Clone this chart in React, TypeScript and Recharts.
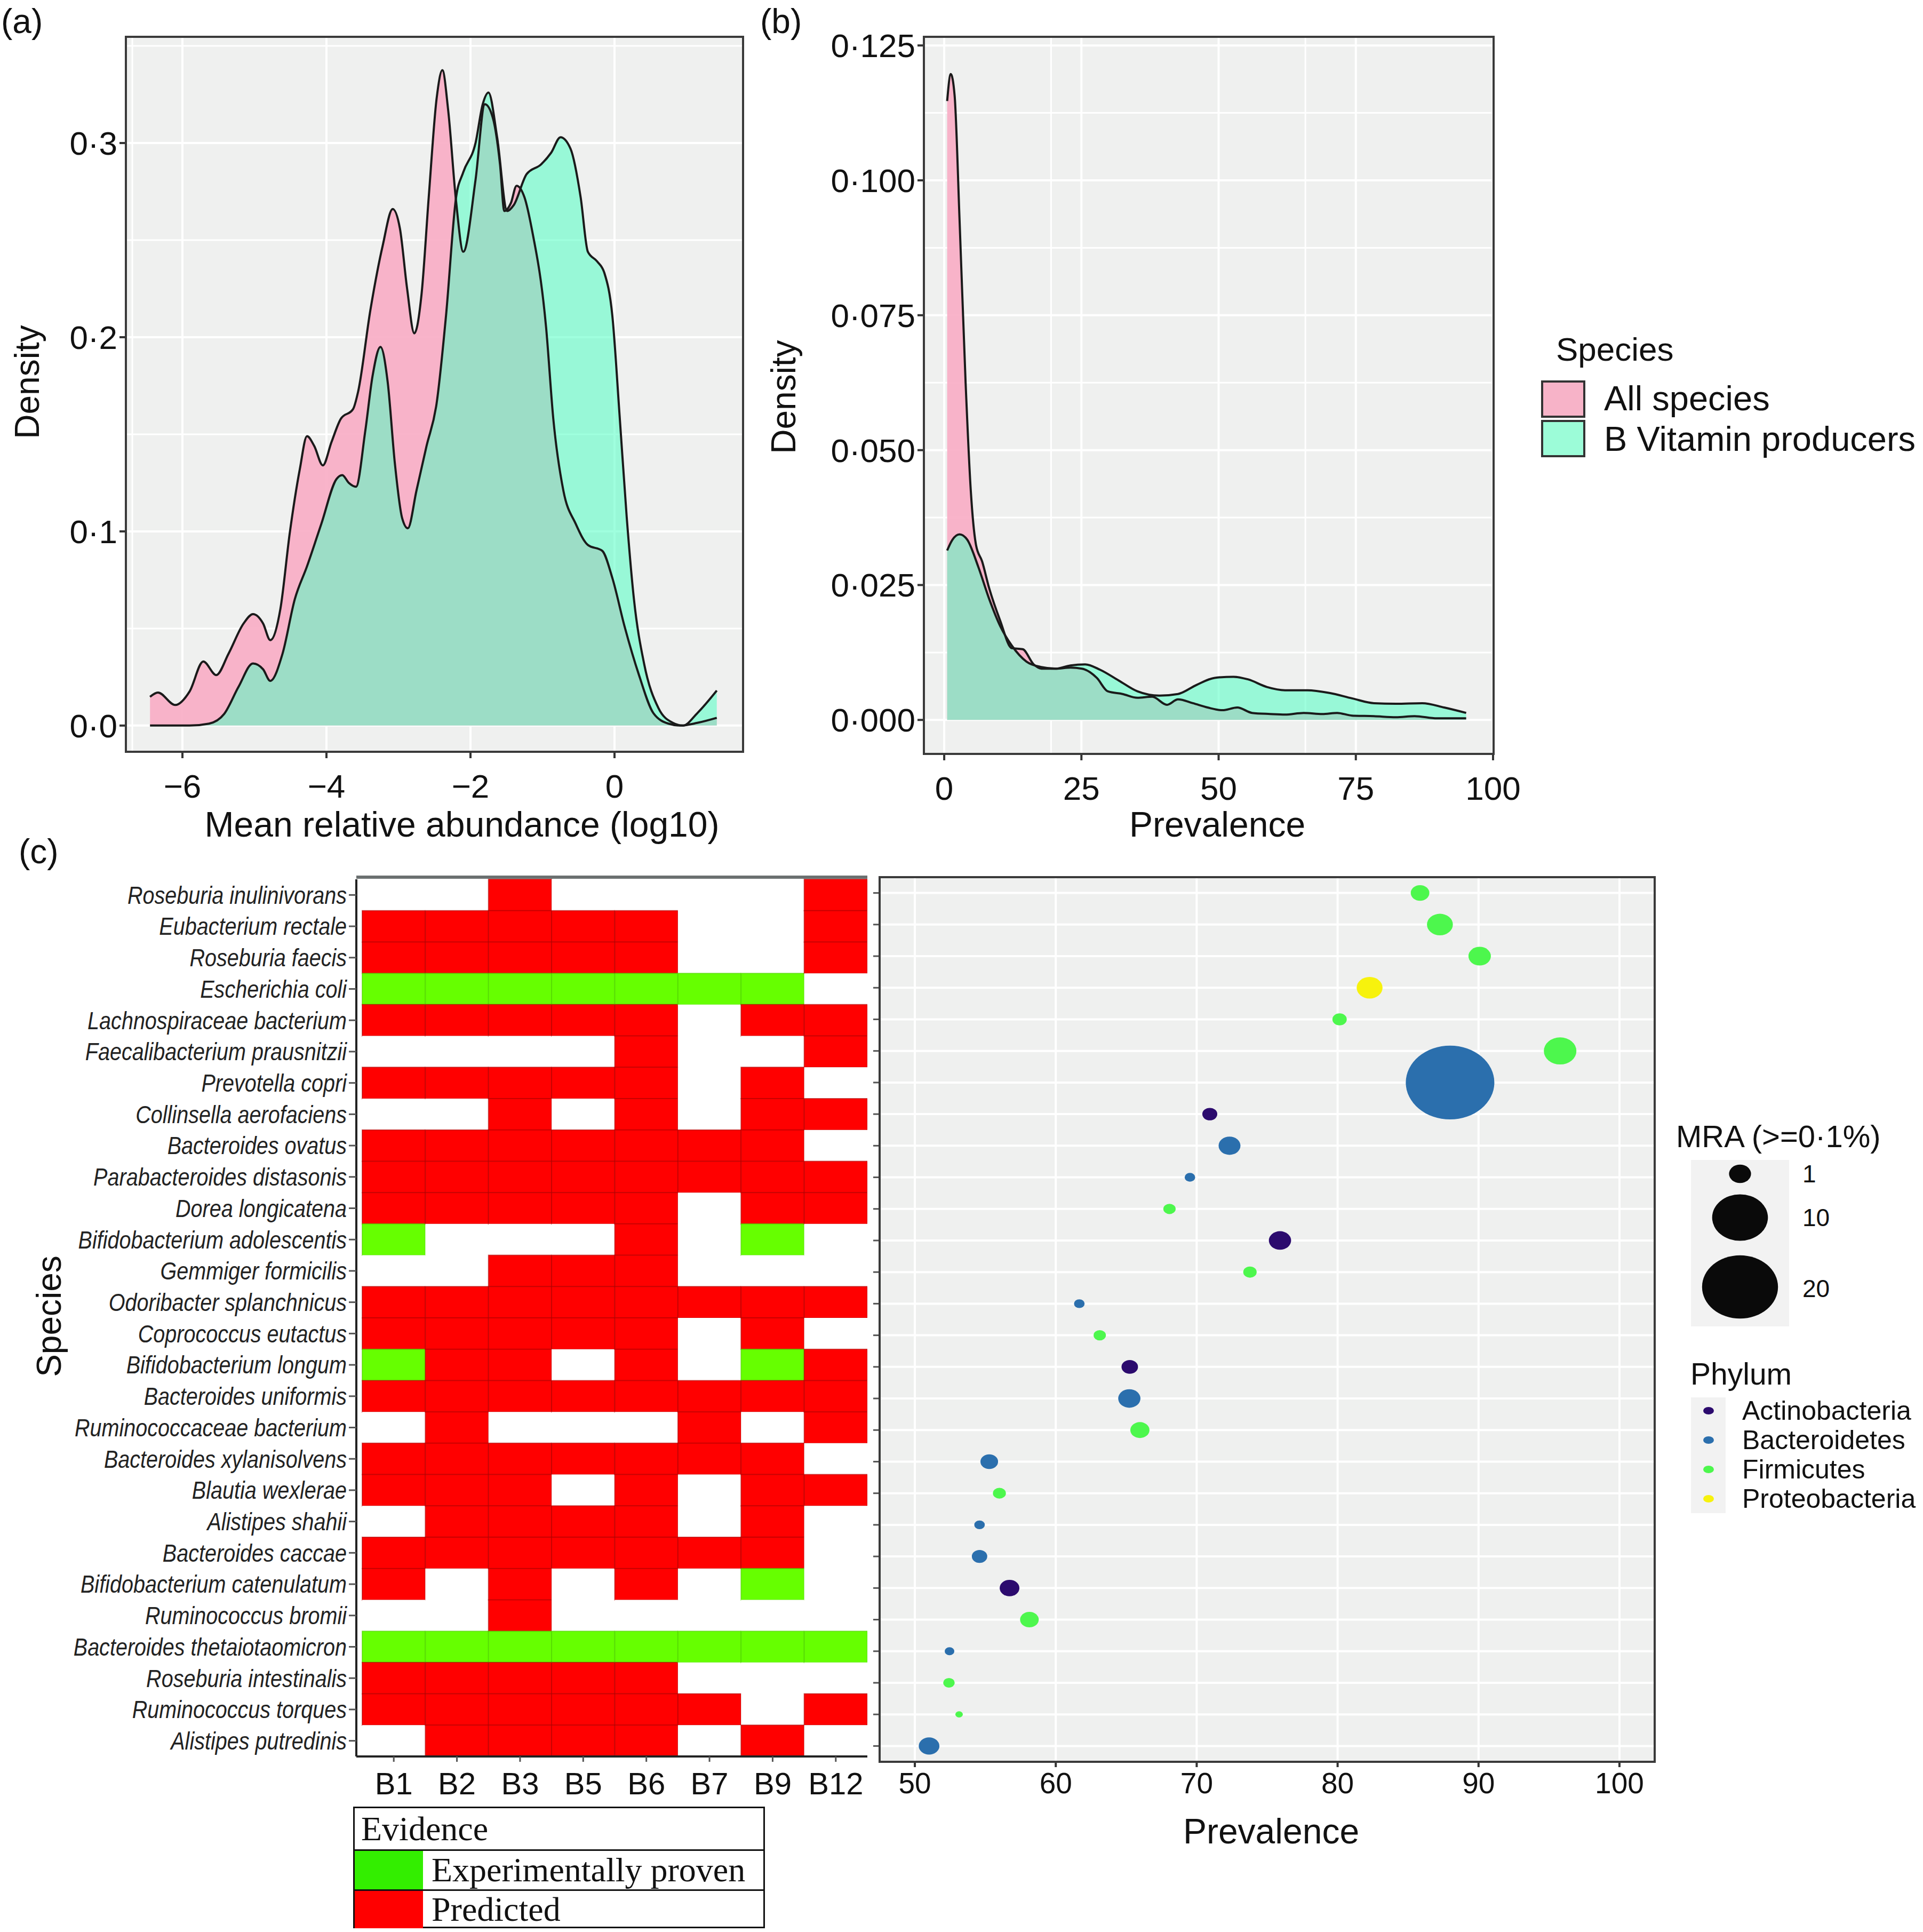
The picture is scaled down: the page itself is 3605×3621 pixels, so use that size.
import React from 'react';
import {
  ComposedChart,
  Area,
  Line,
  XAxis,
  YAxis,
  CartesianGrid,
  BarChart,
  Bar,
  Cell,
  ScatterChart,
  Scatter,
} from 'recharts';

const FONT = '"Liberation Sans", Arial, Helvetica, sans-serif';
const SERIF = '"Liberation Serif", "Times New Roman", serif';
const PANEL_BG = '#EFF0EF';
const PINK = '#F8ACC4';
const AQUA = '#50FFC3';

// (a) density of mean relative abundance (log10)
const ABUND_ALL_X = [-6.45, -6.34, -6.1, -5.9, -5.71, -5.53, -5.36, -5.15, -5.02, -4.88, -4.78, -4.64, -4.51, -4.37, -4.27, -4.17, -4.05, -3.93, -3.8, -3.63, -3.56, -3.39, -3.22, -3.08, -2.98, -2.88, -2.78, -2.68, -2.58, -2.47, -2.39, -2.31, -2.2, -2.1, -1.93, -1.8, -1.69, -1.59, -1.53, -1.44, -1.36, -1.25, -1.15, -0.95, -0.85, -0.71, -0.54, -0.37, -0.17, -0.03, 0.14, 0.34, 0.54, 0.75, 0.92, 1.15, 1.42];
const ABUND_ALL_Y = [0.0148, 0.017, 0.0106, 0.0176, 0.033, 0.026, 0.037, 0.0526, 0.0574, 0.0526, 0.044, 0.06, 0.099, 0.132, 0.149, 0.144, 0.134, 0.146, 0.158, 0.163, 0.172, 0.214, 0.247, 0.266, 0.256, 0.225, 0.202, 0.222, 0.272, 0.323, 0.3375, 0.317, 0.27, 0.244, 0.281, 0.32, 0.313, 0.289, 0.265, 0.269, 0.278, 0.272, 0.256, 0.205, 0.158, 0.121, 0.104, 0.093, 0.09, 0.076, 0.051, 0.026, 0.0064, 0.001, 0, 0.0014, 0.004];
const ABUND_BVIT_X = [-6.45, -5.9, -5.63, -5.42, -5.22, -5.02, -4.88, -4.78, -4.61, -4.44, -4.27, -4.07, -3.86, -3.78, -3.69, -3.59, -3.46, -3.36, -3.25, -3.15, -3.05, -2.95, -2.87, -2.75, -2.61, -2.47, -2.34, -2.2, -2.1, -1.93, -1.83, -1.75, -1.63, -1.49, -1.4, -1.22, -1.02, -0.88, -0.75, -0.61, -0.47, -0.37, -0.24, -0.14, -0.03, 0.07, 0.17, 0.27, 0.41, 0.61, 0.81, 0.95, 1.15, 1.42];
const ABUND_BVIT_Y = [0, 0, 0.001, 0.006, 0.02, 0.032, 0.029, 0.023, 0.037, 0.065, 0.082, 0.104, 0.127, 0.129, 0.125, 0.123, 0.152, 0.18, 0.195, 0.177, 0.135, 0.107, 0.1016, 0.121, 0.144, 0.166, 0.211, 0.272, 0.285, 0.3, 0.32, 0.326, 0.303, 0.265, 0.268, 0.284, 0.289, 0.295, 0.303, 0.297, 0.272, 0.244, 0.239, 0.233, 0.211, 0.16, 0.107, 0.065, 0.032, 0.009, 0.0014, 0, 0.0064, 0.018];
const ABUND_TICKS = [-6, -4, -2, 0];
const ABUND_MINOR = [-7, -5, -3, -1, 1];
const ABUND_DENS_TICKS = [0, 0.1, 0.2, 0.3];
const ABUND_DENS_MINOR = [0.05, 0.15, 0.25, 0.35];

// (b) density of prevalence
const PREV_ALL_X = [0.54, 1.2, 1.9, 2.8, 3.9, 4.85, 5.8, 6.9, 8.2, 10.2, 12.3, 14.3, 16.3, 17.7, 20.4, 23, 25.1, 27.8, 29.8, 32.5, 35.2, 37.9, 40.6, 42.6, 45.3, 48, 50.7, 53.4, 56.1, 59.4, 62.1, 65.5, 68.9, 71.6, 74.3, 78.3, 82.3, 85.7, 89.8, 95.1];
const PREV_ALL_Y = [0.1147, 0.1197, 0.1157, 0.0926, 0.0625, 0.0424, 0.0324, 0.0294, 0.0244, 0.0184, 0.0133, 0.0131, 0.0103, 0.0095, 0.0095, 0.0097, 0.0095, 0.0078, 0.0053, 0.0048, 0.0041, 0.0043, 0.0028, 0.0038, 0.0031, 0.0023, 0.0018, 0.0023, 0.0013, 0.0011, 0.001, 0.0013, 0.0011, 0.0013, 0.0008, 0.0007, 0.0005, 0.0007, 0.0003, 0.0003];
const PREV_BVIT_X = [0.54, 1.5, 2.8, 4.2, 6.2, 8.2, 10.2, 12.3, 15, 17.7, 20.4, 23, 25.7, 28.4, 31.8, 35.2, 39.2, 42.6, 46, 49.3, 52.7, 55.4, 58.8, 62.1, 66.2, 70.2, 74.3, 78.3, 82.3, 87.1, 91.1, 95.1];
const PREV_BVIT_Y = [0.0314, 0.0334, 0.0344, 0.0334, 0.0284, 0.0224, 0.0174, 0.0138, 0.0108, 0.0098, 0.0095, 0.0101, 0.0103, 0.0093, 0.0073, 0.0053, 0.0045, 0.0048, 0.0065, 0.0078, 0.008, 0.0075, 0.0061, 0.0055, 0.0055, 0.005, 0.004, 0.0031, 0.003, 0.0031, 0.0023, 0.0013];
const PREV_TICKS = [0, 25, 50, 75, 100];
const PREV_MINOR = [12.5, 37.5, 62.5, 87.5];
const PREV_DENS_TICKS = [0, 0.025, 0.05, 0.075, 0.1, 0.125];
const PREV_DENS_MINOR = [0.0125, 0.0375, 0.0625, 0.0875, 0.1125];

// (c) B vitamin producers
const SPECIES = [
  'Roseburia inulinivorans', 'Eubacterium rectale', 'Roseburia faecis', 'Escherichia coli',
  'Lachnospiraceae bacterium', 'Faecalibacterium prausnitzii', 'Prevotella copri', 'Collinsella aerofaciens',
  'Bacteroides ovatus', 'Parabacteroides distasonis', 'Dorea longicatena', 'Bifidobacterium adolescentis',
  'Gemmiger formicilis', 'Odoribacter splanchnicus', 'Coprococcus eutactus', 'Bifidobacterium longum',
  'Bacteroides uniformis', 'Ruminococcaceae bacterium', 'Bacteroides xylanisolvens', 'Blautia wexlerae',
  'Alistipes shahii', 'Bacteroides caccae', 'Bifidobacterium catenulatum', 'Ruminococcus bromii',
  'Bacteroides thetaiotaomicron', 'Roseburia intestinalis', 'Ruminococcus torques', 'Alistipes putredinis',
];
const VITAMINS = ['B1', 'B2', 'B3', 'B5', 'B6', 'B7', 'B9', 'B12'];
// 0 = none, 1 = predicted, 2 = experimentally proven
const EVIDENCE = [
  [0, 0, 1, 0, 0, 0, 0, 1],
  [1, 1, 1, 1, 1, 0, 0, 1],
  [1, 1, 1, 1, 1, 0, 0, 1],
  [2, 2, 2, 2, 2, 2, 2, 0],
  [1, 1, 1, 1, 1, 0, 1, 1],
  [0, 0, 0, 0, 1, 0, 0, 1],
  [1, 1, 1, 1, 1, 0, 1, 0],
  [0, 0, 1, 0, 1, 0, 1, 1],
  [1, 1, 1, 1, 1, 1, 1, 0],
  [1, 1, 1, 1, 1, 1, 1, 1],
  [1, 1, 1, 1, 1, 0, 1, 1],
  [2, 0, 0, 0, 1, 0, 2, 0],
  [0, 0, 1, 1, 1, 0, 0, 0],
  [1, 1, 1, 1, 1, 1, 1, 1],
  [1, 1, 1, 1, 1, 0, 1, 0],
  [2, 1, 1, 0, 1, 0, 2, 1],
  [1, 1, 1, 1, 1, 1, 1, 1],
  [0, 1, 0, 0, 0, 1, 0, 1],
  [1, 1, 1, 1, 1, 1, 1, 0],
  [1, 1, 1, 0, 1, 0, 1, 1],
  [0, 1, 1, 1, 1, 0, 1, 0],
  [1, 1, 1, 1, 1, 1, 1, 0],
  [1, 0, 1, 0, 1, 0, 2, 0],
  [0, 0, 1, 0, 0, 0, 0, 0],
  [2, 2, 2, 2, 2, 2, 2, 2],
  [1, 1, 1, 1, 1, 0, 0, 0],
  [1, 1, 1, 1, 1, 1, 0, 1],
  [0, 1, 1, 1, 1, 0, 1, 0],
];
const PHYLUM = [
  'Firmicutes', 'Firmicutes', 'Firmicutes', 'Proteobacteria', 'Firmicutes', 'Firmicutes', 'Bacteroidetes',
  'Actinobacteria', 'Bacteroidetes', 'Bacteroidetes', 'Firmicutes', 'Actinobacteria', 'Firmicutes',
  'Bacteroidetes', 'Firmicutes', 'Actinobacteria', 'Bacteroidetes', 'Firmicutes', 'Bacteroidetes',
  'Firmicutes', 'Bacteroidetes', 'Bacteroidetes', 'Actinobacteria', 'Firmicutes', 'Bacteroidetes',
  'Firmicutes', 'Firmicutes', 'Bacteroidetes',
];
const PREVALENCE = [85.85, 87.26, 90.08, 82.27, 80.14, 95.79, 87.98, 70.93, 72.33, 69.52, 68.07, 75.91, 73.78, 61.67, 63.12, 65.25, 65.22, 65.97, 55.28, 56.0, 54.59, 54.59, 56.72, 58.13, 52.46, 52.42, 53.14, 51.01];
const MRA = [0.63, 1.54, 1.05, 1.54, 0.3, 2.77, 28.0, 0.34, 0.98, 0.14, 0.2, 1.03, 0.25, 0.14, 0.2, 0.45, 1.03, 0.68, 0.54, 0.23, 0.14, 0.37, 0.74, 0.63, 0.12, 0.17, 0.1, 0.84];
const PREV_C_TICKS = [50, 60, 70, 80, 90, 100];
const PREV_C_MINOR = [55, 65, 75, 85, 95];
const MRA_BREAKS = [1, 10, 20];
const PHYLA = ['Actinobacteria', 'Bacteroidetes', 'Firmicutes', 'Proteobacteria'];
const PHYLUM_COLOR: Record<string, string> = {
  Actinobacteria: '#2C0B6E',
  Bacteroidetes: '#2B6FAD',
  Firmicutes: '#4DF74D',
  Proteobacteria: '#F7F20D',
};
const EVIDENCE_FILL = ['#FFFFFF', '#FF0000', '#66FF00'];
const EVIDENCE_STROKE = ['none', '#B00000', '#4FD000'];

const dot = (v: number, digits: number) =>
  v.toFixed(digits).replace('-', '\u2212').replace('.', '\u00b7');

function mergeCurves(ax: number[], ay: number[], bx: number[], by: number[]) {
  const rows = new Map<number, any>();
  ax.forEach((x, i) => rows.set(x, { ...(rows.get(x) || { x }), all: ay[i] }));
  bx.forEach((x, i) => rows.set(x, { ...(rows.get(x) || { x }), bvit: by[i] }));
  return Array.from(rows.values()).sort((p, q) => p.x - q.x);
}

const ABUND_DATA = mergeCurves(ABUND_ALL_X, ABUND_ALL_Y, ABUND_BVIT_X, ABUND_BVIT_Y);
const PREV_DATA = mergeCurves(PREV_ALL_X, PREV_ALL_Y, PREV_BVIT_X, PREV_BVIT_Y);

const HEAT_ROWS = SPECIES.map((species) => {
  const row: any = { species };
  VITAMINS.forEach((v) => (row[v] = 1));
  return row;
});

const BUBBLES = SPECIES.map((species, i) => ({
  species,
  prevalence: PREVALENCE[i],
  mra: MRA[i],
  phylum: PHYLUM[i],
}));

// ggplot-like area scale: diameter grows with sqrt of the rescaled value
const MRA_MIN = Math.min(...MRA);
const MRA_MAX = Math.max(...MRA);
const bubbleDiameter = (v: number) =>
  14 + 152 * Math.sqrt(Math.max(0, v - MRA_MIN) / (MRA_MAX - MRA_MIN));

function Txt(props: {
  x: number; y: number; size: number; anchor?: 'start' | 'middle' | 'end';
  rotate?: boolean; family?: string; children: React.ReactNode;
}) {
  const { x, y, size, anchor = 'middle', rotate, family = FONT, children } = props;
  const tx = anchor === 'start' ? '0' : anchor === 'end' ? '-100%' : '-50%';
  return (
    <div
      style={{
        position: 'absolute', left: x, top: y, fontSize: size, lineHeight: 1,
        fontFamily: family, color: '#111', whiteSpace: 'nowrap',
        transform: `translate(${rotate ? '-50%' : tx}, -50%)${rotate ? ' rotate(-90deg)' : ''}`,
      }}
    >
      {children}
    </div>
  );
}

function Box(props: { left: number; top: number; width: number; height: number; color?: string; w?: number }) {
  const { left, top, width, height, color = '#3a3a3a', w = 4 } = props;
  return (
    <div
      style={{
        position: 'absolute', left: left - w / 2, top: top - w / 2, width: width + w, height: height + w,
        border: `${w}px solid ${color}`, boxSizing: 'border-box', pointerEvents: 'none',
      }}
    />
  );
}

// species names: italic, slightly condensed like the original
function SpeciesTick(props: any) {
  const { x, y, payload } = props;
  return (
    <g transform={`translate(${x},${y})`}>
      <text
        transform="scale(0.86,1)" textAnchor="end" dy="0.355em"
        fontSize={46} fontStyle="italic" fill="#222" fontFamily={FONT}
      >
        {payload.value}
      </text>
    </g>
  );
}

const tickText = { fontSize: 62, fill: '#111', fontFamily: FONT };

function DensityPanel(props: {
  left: number; width: number; height: number; data: any[];
  plot: { left: number; right: number; top: number; bottom: number };
  xDomain: [number, number]; yDomain: [number, number];
  xTicks: number[]; xMinor: number[]; yTicks: number[]; yMinor: number[];
  xDigits: number; yDigits: number;
}) {
  const { left, width, height, data, plot, xDomain, yDomain } = props;
  return (
    <div style={{ position: 'absolute', left, top: 0 }}>
      <ComposedChart
        width={width}
        height={height}
        data={data}
        margin={{ top: plot.top, right: width - plot.right, bottom: 0, left: 0 }}
      >
        <CartesianGrid xAxisId="minor" yAxisId="minor" stroke="#fff" strokeWidth={3} fill={PANEL_BG} fillOpacity={1} />
        <CartesianGrid stroke="#fff" strokeWidth={4} />
        <XAxis
          dataKey="x" type="number" domain={xDomain} ticks={props.xTicks} allowDataOverflow
          height={height - plot.bottom} tickSize={12} tickMargin={30}
          tickFormatter={(v: number) => dot(v, props.xDigits)}
          tick={tickText} axisLine={false} tickLine={{ stroke: '#333', strokeWidth: 4 }}
        />
        <XAxis xAxisId="minor" type="number" domain={xDomain} ticks={props.xMinor} allowDataOverflow hide />
        <YAxis
          type="number" domain={yDomain} ticks={props.yTicks} allowDataOverflow
          width={plot.left} tickSize={12} tickMargin={4}
          tickFormatter={(v: number) => dot(v, props.yDigits)}
          tick={tickText} axisLine={false} tickLine={{ stroke: '#333', strokeWidth: 4 }}
        />
        <YAxis yAxisId="minor" type="number" domain={yDomain} ticks={props.yMinor} allowDataOverflow hide />
        <Area
          dataKey="all" type="monotone" connectNulls baseValue={0}
          stroke="none" fill={PINK} fillOpacity={0.9}
          dot={false} activeDot={false} isAnimationActive={false}
        />
        <Area
          dataKey="bvit" type="monotone" connectNulls baseValue={0}
          stroke="none" fill={AQUA} fillOpacity={0.55}
          dot={false} activeDot={false} isAnimationActive={false}
        />
        <Line
          dataKey="all" type="monotone" connectNulls stroke="#1a1a1a" strokeWidth={4}
          dot={false} activeDot={false} isAnimationActive={false}
        />
        <Line
          dataKey="bvit" type="monotone" connectNulls stroke="#1a1a1a" strokeWidth={4}
          dot={false} activeDot={false} isAnimationActive={false}
        />
      </ComposedChart>
      <Box left={plot.left} top={plot.top} width={plot.right - plot.left} height={plot.bottom - plot.top} />
    </div>
  );
}

function renderBubble(p: any) {
  const d = bubbleDiameter(p.payload.mra);
  return <ellipse cx={p.cx} cy={p.cy} rx={d / 2} ry={d / 2 / 1.2} fill={PHYLUM_COLOR[p.payload.phylum]} />;
}

export default function App() {
  return (
    <div style={{ position: 'relative', width: 3605, height: 3621, background: '#fff', overflow: 'hidden', fontFamily: FONT }}>
      <style>{'body{margin:0}'}</style>

      {/* (a) */}
      <DensityPanel
        left={0} width={1420} height={1580} data={ABUND_DATA}
        plot={{ left: 236, right: 1393, top: 69, bottom: 1409 }}
        xDomain={[-6.785, 1.785]} yDomain={[-0.0135, 0.3547]}
        xTicks={ABUND_TICKS} xMinor={ABUND_MINOR} yTicks={ABUND_DENS_TICKS} yMinor={ABUND_DENS_MINOR}
        xDigits={0} yDigits={1}
      />
      <Txt x={2} y={40} size={64} anchor="start">(a)</Txt>
      <Txt x={51} y={716} size={64} rotate>Density</Txt>
      <Txt x={866} y={1545} size={66}>Mean relative abundance (log10)</Txt>

      {/* (b) */}
      <DensityPanel
        left={1420} width={2185} height={1580} data={PREV_DATA}
        plot={{ left: 312, right: 1380, top: 69, bottom: 1413 }}
        xDomain={[-3.7, 100.1]} yDomain={[-0.0063, 0.1266]}
        xTicks={PREV_TICKS} xMinor={PREV_MINOR} yTicks={PREV_DENS_TICKS} yMinor={PREV_DENS_MINOR}
        xDigits={0} yDigits={3}
      />
      <Txt x={1425} y={40} size={64} anchor="start">(b)</Txt>
      <Txt x={1469} y={744} size={64} rotate>Density</Txt>
      <Txt x={2282} y={1545} size={66}>Prevalence</Txt>
      <Txt x={2917} y={655} size={62} anchor="start">Species</Txt>
      <div style={{ position: 'absolute', left: 2889, top: 713, width: 83, height: 70, background: '#F7B3C8', border: '4px solid #333', boxSizing: 'border-box' }} />
      <div style={{ position: 'absolute', left: 2889, top: 787, width: 83, height: 70, background: '#9CFCD8', border: '4px solid #333', boxSizing: 'border-box' }} />
      <Txt x={3007} y={746} size={65} anchor="start">All species</Txt>
      <Txt x={3007} y={822} size={65} anchor="start">B Vitamin producers</Txt>

      {/* (c) heatmap */}
      <Txt x={35} y={1596} size={64} anchor="start">(c)</Txt>
      <Txt x={92} y={2467} size={64} rotate>Species</Txt>
      <div style={{ position: 'absolute', left: 0, top: 1600 }}>
        <BarChart
          layout="vertical" width={1640} height={1800} data={HEAT_ROWS}
          margin={{ top: 48, right: 14, bottom: 0, left: 0 }}
          barCategoryGap={0} barGap={0}
        >
          <XAxis
            type="number" domain={[-0.093, VITAMINS.length]} allowDataOverflow
            ticks={VITAMINS.map((_, i) => i + 0.5)}
            tickFormatter={(v: number) => VITAMINS[Math.floor(v)]}
            height={108} tickSize={10} tickMargin={20}
            tick={{ fontSize: 58, fill: '#111', fontFamily: FONT }}
            axisLine={{ stroke: '#222', strokeWidth: 4 }} tickLine={{ stroke: '#555', strokeWidth: 3 }}
          />
          <YAxis
            type="category" dataKey="species" width={668} interval={0} tickSize={14} tickMargin={4}
            tick={<SpeciesTick />}
            axisLine={{ stroke: '#222', strokeWidth: 4 }} tickLine={{ stroke: '#555', strokeWidth: 3 }}
          />
          {VITAMINS.map((v, j) => (
            <Bar key={v} dataKey={v} stackId="ev" isAnimationActive={false}>
              {EVIDENCE.map((row, i) => (
                <Cell key={i} fill={EVIDENCE_FILL[row[j]]} stroke={EVIDENCE_STROKE[row[j]]} strokeWidth={2} strokeOpacity={0.6} />
              ))}
            </Bar>
          ))}
        </BarChart>
      </div>
      <div style={{ position: 'absolute', left: 668, top: 1641, width: 958, height: 6, background: '#6B7070' }} />

      {/* Evidence legend */}
      <div style={{ position: 'absolute', left: 662, top: 3386, width: 772, height: 228, border: '3px solid #111', boxSizing: 'border-box', fontFamily: SERIF, fontSize: 64, color: '#111' }}>
        <div style={{ height: 77, lineHeight: '77px', paddingLeft: 12, borderBottom: '3px solid #111' }}>Evidence</div>
        <div style={{ display: 'flex', height: 72, borderBottom: '3px solid #111' }}>
          <div style={{ width: 128, background: '#33EE00' }} />
          <div style={{ lineHeight: '72px', paddingLeft: 16 }}>Experimentally proven</div>
        </div>
        <div style={{ display: 'flex', height: 70 }}>
          <div style={{ width: 128, background: '#FF0000' }} />
          <div style={{ lineHeight: '70px', paddingLeft: 16 }}>Predicted</div>
        </div>
      </div>

      {/* (c) bubble plot */}
      <div style={{ position: 'absolute', left: 1600, top: 1600 }}>
        <ScatterChart width={2005} height={1900} margin={{ top: 44, right: 503, bottom: 0, left: 0 }}>
          <CartesianGrid xAxisId="minor" horizontal={false} stroke="#fff" strokeWidth={3} fill={PANEL_BG} fillOpacity={1} />
          <CartesianGrid stroke="#fff" strokeWidth={4} />
          <XAxis
            type="number" dataKey="prevalence" domain={[47.5, 102.5]} ticks={PREV_C_TICKS} allowDataOverflow
            height={198} tickSize={10} tickMargin={10}
            tick={{ fontSize: 55, fill: '#111', fontFamily: FONT }}
            axisLine={false} tickLine={{ stroke: '#333', strokeWidth: 4 }}
          />
          <XAxis xAxisId="minor" type="number" domain={[47.5, 102.5]} ticks={PREV_C_MINOR} allowDataOverflow hide />
          <YAxis
            type="category" dataKey="species" reversed width={49} interval={0} tickSize={12}
            tickFormatter={() => ''} axisLine={false} tickLine={{ stroke: '#555', strokeWidth: 3 }}
          />
          <Scatter data={BUBBLES} isAnimationActive={false} shape={renderBubble} />
        </ScatterChart>
      </div>
      <Box left={1649} top={1644} width={1453} height={1658} />
      <Txt x={2383} y={3432} size={66}>Prevalence</Txt>

      {/* MRA legend */}
      <Txt x={3142} y={2130} size={58} anchor="start">MRA (&gt;=0·1%)</Txt>
      <div style={{ position: 'absolute', left: 3170, top: 2174, width: 184, height: 312, background: '#F2F2F2' }} />
      <svg style={{ position: 'absolute', left: 3170, top: 2174 }} width={184} height={312}>
        {MRA_BREAKS.map((b, i) => {
          const d = bubbleDiameter(b);
          const cy = [26, 108, 238][i];
          return <ellipse key={b} cx={92} cy={cy} rx={d / 2} ry={d / 2 / 1.2} fill="#0a0a0a" />;
        })}
      </svg>
      {MRA_BREAKS.map((b, i) => (
        <Txt key={b} x={3379} y={[2200, 2282, 2415][i]} size={46} anchor="start">{b}</Txt>
      ))}

      {/* Phylum legend */}
      <Txt x={3169} y={2575} size={57} anchor="start">Phylum</Txt>
      <div style={{ position: 'absolute', left: 3170, top: 2619, width: 65, height: 217, background: '#F2F2F2' }} />
      <svg style={{ position: 'absolute', left: 3170, top: 2619 }} width={65} height={217}>
        {PHYLA.map((p, i) => (
          <ellipse key={p} cx={33} cy={25 + i * 55} rx={10} ry={7} fill={PHYLUM_COLOR[p]} />
        ))}
      </svg>
      {PHYLA.map((p, i) => (
        <Txt key={p} x={3266} y={2644 + i * 55} size={50} anchor="start">{p}</Txt>
      ))}
    </div>
  );
}
